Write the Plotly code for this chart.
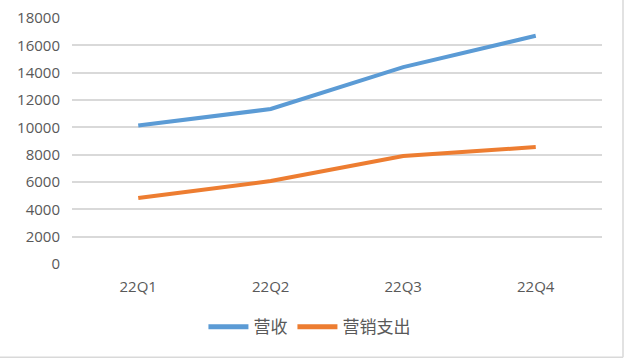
import plotly.graph_objects as go

categories = ["22Q1", "22Q2", "22Q3", "22Q4"]
revenue = [10130, 11340, 14410, 16700]
marketing = [4830, 6070, 7900, 8560]
series_names = ["营收", "营销支出"]
y_ticks = [0, 2000, 4000, 6000, 8000, 10000, 12000, 14000, 16000, 18000]
y_tick_labels = [str(v) for v in y_ticks]

fig = go.Figure()
fig.add_trace(go.Scatter(x=categories, y=revenue, mode="lines", name=series_names[0],
                         line=dict(color="#5B9BD5", width=4)))
fig.add_trace(go.Scatter(x=categories, y=marketing, mode="lines", name=series_names[1],
                         line=dict(color="#ED7D31", width=4)))

tick_font = dict(family="Open Sans, Liberation Sans, sans-serif", size=15, color="#595959")

fig.update_layout(
    width=625, height=359,
    margin=dict(l=72, r=23, t=18, b=95, autoexpand=False),
    paper_bgcolor="white", plot_bgcolor="white",
    showlegend=True,
    legend=dict(orientation="h", x=0.448, xanchor="center", y=-0.257, yanchor="middle",
                font=dict(family="Noto Sans CJK SC, sans-serif", size=17, color="#595959"),
                itemwidth=40, tracegroupgap=0, itemsizing="constant"),
    xaxis=dict(showgrid=False, zeroline=False, showline=False, tickfont=tick_font,
               ticks="outside", ticklen=9, tickcolor="rgba(0,0,0,0)",
               range=[-0.5, 3.5], automargin=False),
    yaxis=dict(range=[0, 18000], tickvals=y_ticks, ticktext=y_tick_labels, showgrid=True,
               gridcolor="#D9D9D9", gridwidth=1.5, zeroline=False, showline=False,
               tickfont=tick_font, ticks="outside", ticklen=8,
               tickcolor="rgba(0,0,0,0)", automargin=False),
    shapes=[
        dict(type="line", xref="paper", yref="paper", x0=(623 - 72) / 530, x1=(623 - 72) / 530,
             y0=1.1, y1=(264 - 357) / 245.5, line=dict(color="#D9D9D9", width=1.5)),
        dict(type="line", xref="paper", yref="paper", x0=-0.2, x1=(623 - 72) / 530,
             y0=(264 - 357) / 245.5, y1=(264 - 357) / 245.5, line=dict(color="#D9D9D9", width=1.5)),
    ],
)

fig.write_html("out.html", config={"displayModeBar": False},
               post_script="document.body.style.margin='0';")
